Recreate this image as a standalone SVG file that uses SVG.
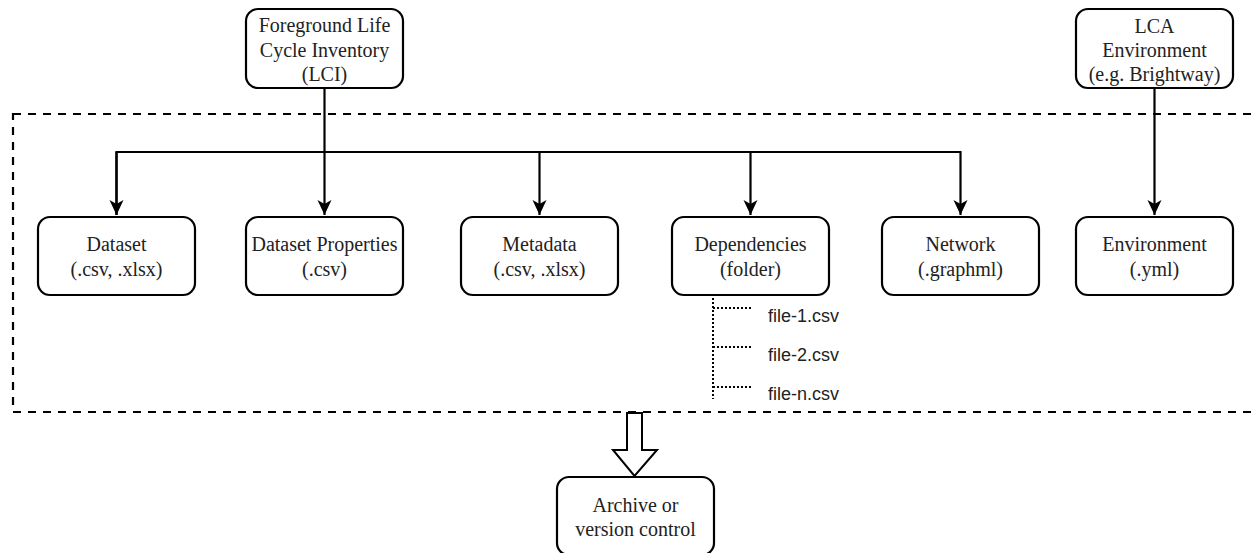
<svg xmlns="http://www.w3.org/2000/svg" width="1257" height="553" viewBox="0 0 1257 553">
<style>
.box{fill:#fff;stroke:#000;stroke-width:2.2}
.lbl{font-family:"Liberation Serif","Times New Roman",serif;font-size:20px;fill:#222;text-anchor:middle}
.file{font-family:"Liberation Sans",Arial,sans-serif;font-size:18px;fill:#222}
.conn{fill:none;stroke:#000;stroke-width:2.2}
.dot{fill:none;stroke:#000;stroke-width:2;stroke-dasharray:2 2}
</style>
<defs>
<marker id="arr" viewBox="-15 -8 16 16" refX="0" refY="0" markerWidth="16" markerHeight="16" markerUnits="userSpaceOnUse" orient="auto">
<path d="M0,0 L-15,-7 L-11,0 L-15,7 Z" fill="#000"/>
</marker>
</defs>
<rect id="frame" x="13" y="114" width="1250" height="298" fill="none" stroke="#000" stroke-width="2.2" stroke-dasharray="8 7"/>
<g id="connectors">
<path class="conn" d="M324.5,88 V215" marker-end="url(#arr)"/>
<path class="conn" d="M116.5,215 V152 H960.5 V215" marker-end="url(#arr)"/>
<path class="conn" d="M116.5,152 V215" marker-end="url(#arr)"/>
<path class="conn" d="M539.5,152 V215" marker-end="url(#arr)"/>
<path class="conn" d="M750.5,152 V215" marker-end="url(#arr)"/>
<path class="conn" d="M1154.5,88 V215" marker-end="url(#arr)"/>
<path class="dot" d="M713,298 V399 M713,308 H753 M713,347 H753 M713,387 H753"/>
<path d="M627,413 H642 V450 H657 L634.5,476 L613,450 H627 Z" fill="#fff" stroke="#000" stroke-width="2"/>
</g>
<g id="lci">
<rect class="box" x="246" y="9" width="157" height="79" rx="12"/>
<text class="lbl" x="324.5" y="32">Foreground Life</text>
<text class="lbl" x="324.5" y="56.5">Cycle Inventory</text>
<text class="lbl" x="324.5" y="81">(LCI)</text>
</g>
<g id="lca">
<rect class="box" x="1076" y="9" width="157" height="79" rx="12"/>
<text class="lbl" x="1154.5" y="33">LCA</text>
<text class="lbl" x="1154.5" y="57">Environment</text>
<text class="lbl" x="1154.5" y="81">(e.g. Brightway)</text>
</g>
<g id="dataset">
<rect class="box" x="38" y="217" width="157" height="78" rx="12"/>
<text class="lbl" x="116.5" y="251">Dataset</text>
<text class="lbl" x="116.5" y="276">(.csv, .xlsx)</text>
</g>
<g id="dataset-properties">
<rect class="box" x="246" y="217" width="157" height="78" rx="12"/>
<text class="lbl" x="324.5" y="251">Dataset Properties</text>
<text class="lbl" x="324.5" y="276">(.csv)</text>
</g>
<g id="metadata">
<rect class="box" x="461" y="217" width="157" height="78" rx="12"/>
<text class="lbl" x="539.5" y="251">Metadata</text>
<text class="lbl" x="539.5" y="276">(.csv, .xlsx)</text>
</g>
<g id="dependencies">
<rect class="box" x="672" y="217" width="157" height="78" rx="12"/>
<text class="lbl" x="750.5" y="251">Dependencies</text>
<text class="lbl" x="750.5" y="276">(folder)</text>
</g>
<g id="network">
<rect class="box" x="882" y="217" width="157" height="78" rx="12"/>
<text class="lbl" x="960.5" y="251">Network</text>
<text class="lbl" x="960.5" y="276">(.graphml)</text>
</g>
<g id="environment">
<rect class="box" x="1076" y="217" width="157" height="78" rx="12"/>
<text class="lbl" x="1154.5" y="251">Environment</text>
<text class="lbl" x="1154.5" y="276">(.yml)</text>
</g>
<g id="files">
<text class="file" x="768" y="322">file-1.csv</text>
<text class="file" x="768" y="361">file-2.csv</text>
<text class="file" x="768" y="400">file-n.csv</text>
</g>
<g id="archive">
<rect class="box" x="557" y="477" width="157" height="78" rx="12"/>
<text class="lbl" x="635.5" y="512">Archive or</text>
<text class="lbl" x="635.5" y="536">version control</text>
</g>
</svg>
